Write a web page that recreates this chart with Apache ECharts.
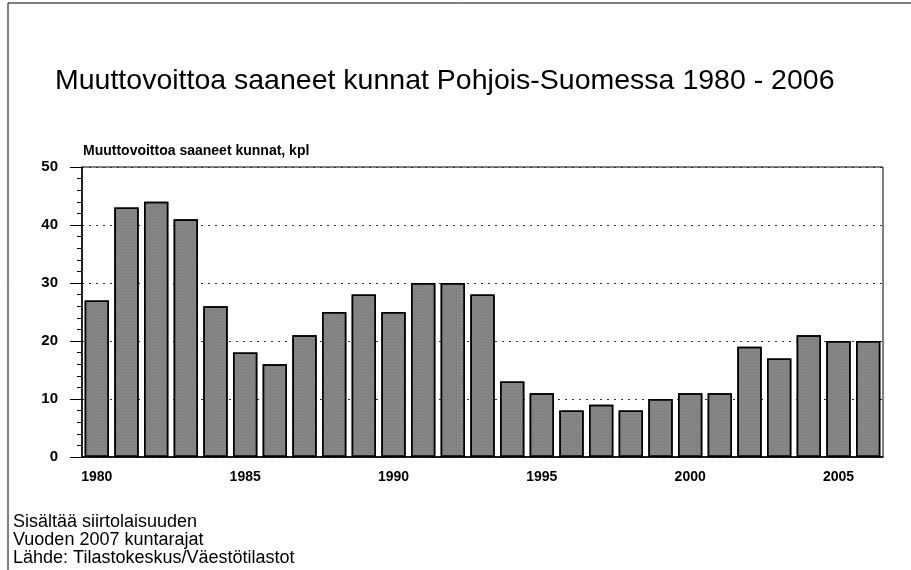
<!DOCTYPE html>
<html><head><meta charset="utf-8">
<script src="https://cdn.jsdelivr.net/npm/echarts@6/dist/echarts.min.js"></script>
<style>html,body{margin:0;padding:0;background:#fff}#c{width:911px;height:570px}</style>
</head><body><div id="c"></div>
<script>
const years = ['1980','1981','1982','1983','1984','1985','1986','1987','1988','1989','1990','1991','1992','1993','1994','1995','1996','1997','1998','1999','2000','2001','2002','2003','2004','2005','2006'];
const values = [27,43,44,41,26,18,16,21,25,28,25,30,30,28,13,11,8,9,8,10,11,11,19,17,21,20,20];
const titleText = 'Muuttovoittoa saaneet kunnat Pohjois-Suomessa 1980 - 2006';
const axisTitle = 'Muuttovoittoa saaneet kunnat, kpl';
const footer = ['Sisältää siirtolaisuuden','Vuoden 2007 kuntarajat','Lähde: Tilastokeskus/Väestötilastot'];

const chart = echarts.init(document.getElementById('c'), null, {renderer:'canvas'});
const F = 'Liberation Sans, Arial, sans-serif';
chart.setOption({
  animation:false,
  backgroundColor:'#fff',
  title:{text:titleText, left:50, top:62, textStyle:{fontFamily:F, fontSize:28.5, fontWeight:'normal', color:'#000'}},
  grid:{left:82, right:28, top:167, bottom:113, show:true, borderColor:'#000', borderWidth:1},
  xAxis:{type:'category', data:years, boundaryGap:true,
    axisLine:{lineStyle:{color:'#000', width:1.5}},
    axisTick:{show:false},
    axisLabel:{interval:0, margin:13, fontFamily:F, fontSize:14, fontWeight:'bold', color:'#000',
      formatter:(v)=> (+v % 5 === 0 ? v : '')}
  },
  yAxis:{type:'value', min:0, max:50, interval:10,
    name:axisTitle, nameLocation:'end', nameGap:9,
    nameTextStyle:{fontFamily:F, fontSize:14, fontWeight:'bold', color:'#000', align:'left', padding:[0,0,0,1]},
    axisLine:{show:true, lineStyle:{color:'#000', width:1.5}},
    axisTick:{show:true, length:12, lineStyle:{color:'#000'}},
    minorTick:{show:true, splitNumber:5, length:5, lineStyle:{color:'#000'}},
    axisLabel:{margin:24, fontFamily:F, fontSize:15, fontWeight:'bold', color:'#000'},
    splitLine:{show:true, lineStyle:{color:'#333', type:[2,5], width:1}}
  },
  series:[{type:'bar', data:values, barCategoryGap:'18%',
    itemStyle:{color:'#858585', borderColor:'#000', borderWidth:1.5,
      decal:{symbol:'rect', symbolSize:0.5, dashArrayX:[1,2], dashArrayY:[1,2], color:'rgba(40,40,40,0.5)'}}}],
  graphic:[
    {type:'line', shape:{x1:8,y1:3,x2:911,y2:3}, style:{stroke:'#000', lineWidth:1}},
    {type:'line', shape:{x1:8,y1:3,x2:8,y2:570}, style:{stroke:'#000', lineWidth:1}},
    {type:'text', x:13, y:522, style:{text:footer[0], font:'18px '+F, fill:'#000', verticalAlign:'middle'}},
    {type:'text', x:13, y:540, style:{text:footer[1], font:'18px '+F, fill:'#000', verticalAlign:'middle'}},
    {type:'text', x:13, y:558, style:{text:footer[2], font:'18px '+F, fill:'#000', verticalAlign:'middle'}}
  ]
});
</script></body></html>
